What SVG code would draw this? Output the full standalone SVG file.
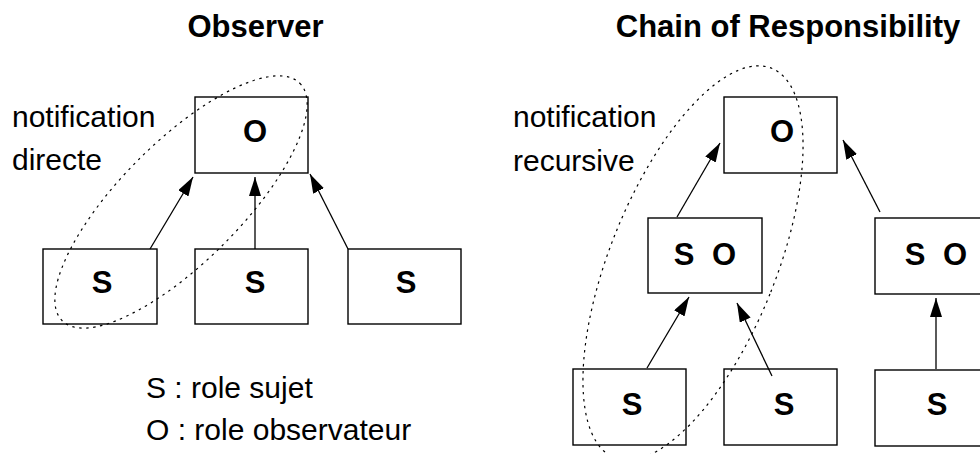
<svg xmlns="http://www.w3.org/2000/svg" width="980" height="454" viewBox="0 0 980 454">
<defs>
<style>
.box{fill:#fff;stroke:#000;stroke-width:1.4}
.lbl{font-family:"Liberation Sans",Arial,sans-serif;font-weight:bold;font-size:31px;text-anchor:middle;fill:#000}
.title{font-family:"Liberation Sans",Arial,sans-serif;font-weight:bold;font-size:31px;text-anchor:middle;fill:#000}
.txt{font-family:"Liberation Sans",Arial,sans-serif;font-size:30px;fill:#000}
.arr{fill:none;stroke:#000;stroke-width:1.3;marker-end:url(#ah)}
.dot{fill:none;stroke:#000;stroke-width:1.2;stroke-dasharray:2.5 4.5}
</style>
<marker id="ah" markerUnits="userSpaceOnUse" markerWidth="20" markerHeight="14" refX="19" refY="6" orient="auto">
<path d="M0,0 L19,6 L0,12 z" fill="#000"/>
</marker>
</defs>
<rect width="980" height="454" fill="#fff"/>

<text class="title" x="255.5" y="37">Observer</text>
<text class="title" x="788" y="37">Chain of Responsibility</text>

<text class="txt" x="12" y="127">notification</text>
<text class="txt" x="12" y="170">directe</text>
<text class="txt" x="513" y="127">notification</text>
<text class="txt" x="513" y="171">recursive</text>
<text class="txt" x="146" y="398">S : role sujet</text>
<text class="txt" x="146" y="440">O : role observateur</text>

<g id="obs-o"><rect class="box" x="195" y="97" width="113" height="76"/><text class="lbl" x="255" y="142">O</text></g>
<g id="obs-s1"><rect class="box" x="43" y="249" width="114" height="75"/><text class="lbl" x="102" y="293">S</text></g>
<g id="obs-s2"><rect class="box" x="195" y="249" width="113" height="75"/><text class="lbl" x="255" y="293">S</text></g>
<g id="obs-s3"><rect class="box" x="348" y="249" width="113" height="75"/><text class="lbl" x="406" y="293">S</text></g>

<g id="cor-o"><rect class="box" x="724" y="97" width="113" height="76"/><text class="lbl" x="782" y="142">O</text></g>
<g id="cor-so1"><rect class="box" x="648" y="218" width="114" height="75"/><text class="lbl" x="705" y="265" word-spacing="9">S O</text></g>
<g id="cor-so2"><rect class="box" x="875" y="218" width="114" height="76"/><text class="lbl" x="936" y="265" word-spacing="9">S O</text></g>
<g id="cor-s1"><rect class="box" x="573" y="369" width="113" height="76"/><text class="lbl" x="632" y="415">S</text></g>
<g id="cor-s2"><rect class="box" x="724" y="369" width="113" height="76"/><text class="lbl" x="784" y="415">S</text></g>
<g id="cor-s3"><rect class="box" x="875" y="370" width="114" height="76"/><text class="lbl" x="937" y="415">S</text></g>

<g id="connectors">
<path class="arr" d="M150,249 L193,177"/>
<path class="arr" d="M255,249 L255,177"/>
<path class="arr" d="M348,249 L310,174"/>
<path class="arr" d="M677,217 L720,143"/>
<path class="arr" d="M880,212 L843,140"/>
<path class="arr" d="M647,368 L689,297"/>
<path class="arr" d="M772,376 L737,303"/>
<path class="arr" d="M936,369 L936,298"/>
</g>

<g id="groups">
<ellipse class="dot" cx="181" cy="202" rx="168" ry="60" transform="rotate(-45 181 202)"/>
<ellipse class="dot" cx="693" cy="263" rx="83" ry="210" transform="rotate(22 693 263)"/>
</g>
</svg>
